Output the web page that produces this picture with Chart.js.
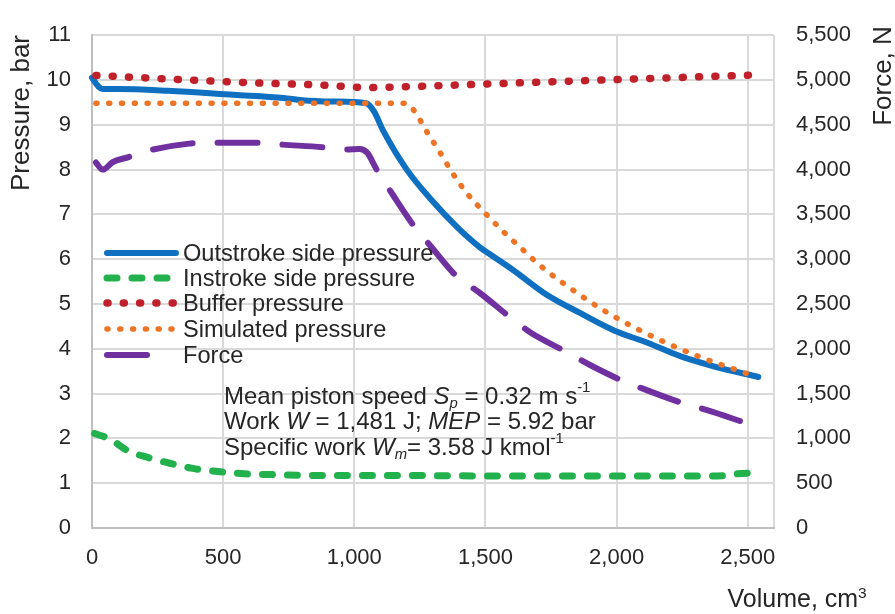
<!DOCTYPE html>
<html>
<head>
<meta charset="utf-8">
<script src="https://cdn.jsdelivr.net/npm/chart.js@4.4.1/dist/chart.umd.min.js"></script>
<style>
	body { margin: 0; background: #fff; }
	#khung { width: 895px; height: 614px; }
</style>
</head>
<body>
<div id="khung"><canvas id="bieuDo" width="895" height="614"></canvas></div>
<script>
// du lieu doc tu hinh
var outVol = [0, 25, 40, 100, 290, 540, 730, 800, 920, 1045, 1075, 1110, 1200, 1290, 1395, 1480, 1520, 1605, 1735, 1860, 1990, 2120, 2245, 2370, 2540];
var outP = [10.05, 9.85, 9.8, 9.8, 9.76, 9.67, 9.6, 9.55, 9.52, 9.48, 9.3, 8.87, 8.0, 7.35, 6.7, 6.26, 6.1, 5.76, 5.2, 4.8, 4.41, 4.13, 3.83, 3.61, 3.37];

var inVol = [10, 70, 135, 210, 300, 385, 480, 580, 700, 900, 1200, 1600, 2000, 2300, 2420, 2460, 2540];
var inP = [2.11, 1.98, 1.73, 1.58, 1.44, 1.33, 1.26, 1.21, 1.19, 1.17, 1.17, 1.16, 1.16, 1.16, 1.17, 1.21, 1.23];

var bufVol = [15, 300, 600, 900, 1050, 1200, 1500, 2000, 2520];
var bufP = [10.1, 10.02, 9.94, 9.88, 9.83, 9.85, 9.91, 10.01, 10.11];

var simVol = [15, 1195, 1226, 1278, 1328, 1378, 1435, 1500, 1569, 1641, 1710, 1824, 1947, 2073, 2206, 2343, 2481, 2530];
var simP = [9.48, 9.48, 9.33, 8.83, 8.37, 7.89, 7.43, 7.02, 6.61, 6.22, 5.85, 5.35, 4.87, 4.46, 4.09, 3.76, 3.48, 3.37];

var forceVol = [15, 40, 80, 140, 220, 370, 460, 630, 720, 880, 970, 1020, 1050, 1085, 1140, 1225, 1290, 1390, 1480, 1595, 1670, 1815, 1895, 2025, 2100, 2255, 2345, 2490];
var forceN = [4080, 4000, 4085, 4140, 4215, 4290, 4300, 4300, 4280, 4250, 4225, 4230, 4185, 4000, 3750, 3380, 3150, 2810, 2620, 2350, 2185, 1955, 1825, 1640, 1555, 1390, 1315, 1175];

var tenChuoi = ['Outstroke side pressure', 'Instroke side pressure', 'Buffer pressure', 'Simulated pressure', 'Force'];
var xTicks = [0, 500, 1000, 1500, 2000, 2500, 2600];

var phong = '"Liberation Sans", Arial, sans-serif';
var mauChu = '#262626';

function ghep(xs, ys) {
	return xs.map((x, i) => ({ x: x, y: ys[i] }));
}
function soDep(v) {
	return Number(v).toLocaleString('en-US');
}

var datasets = [
	{ label: tenChuoi[0], data: ghep(outVol, outP), yAxisID: 'y', borderColor: '#0f6fc0', borderWidth: 6, order: 5 },
	{ label: tenChuoi[1], data: ghep(inVol, inP), yAxisID: 'y', borderColor: '#22b14c', borderWidth: 7, borderDash: [10, 15], order: 4 },
	{ label: tenChuoi[2], data: ghep(bufVol, bufP), yAxisID: 'y', borderColor: '#c0202a', borderWidth: 7.5, borderDash: [1, 15.3], order: 3 },
	{ label: tenChuoi[3], data: ghep(simVol, simP), yAxisID: 'y', borderColor: '#ed7425', borderWidth: 5.5, borderDash: [1, 11.8], order: 2 },
	{ label: tenChuoi[4], data: ghep(forceVol, forceN), yAxisID: 'y2', borderColor: '#7030a0', borderWidth: 6, borderDash: [40, 25], order: 1 }
];
datasets.forEach(d => {
	d.pointRadius = 0;
	d.borderCapStyle = 'round';
	d.borderJoinStyle = 'round';
	d.cubicInterpolationMode = 'monotone';
	d.fill = false;
	d.clip = false;
});

// ve chu co nghieng / chi so
function veDong(ctx, x, y, phan, co) {
	phan.forEach(p => {
		var size = (p.sub || p.sup) ? co * 0.62 : co;
		ctx.font = (p.i ? 'italic ' : '') + size + 'px ' + phong;
		var dy = p.sub ? co * 0.28 : (p.sup ? -co * 0.36 : 0);
		ctx.fillText(p.t, x, y + dy);
		x += ctx.measureText(p.t).width;
	});
}

var chuThich = {
	id: 'chuThich',
	afterDraw(chart) {
		var ctx = chart.ctx;
		ctx.save();
		ctx.fillStyle = mauChu;

		// ten truc
		ctx.font = '26px ' + phong;
		ctx.textAlign = 'center';
		ctx.textBaseline = 'middle';
		ctx.save();
		ctx.translate(22, 113);
		ctx.rotate(-Math.PI / 2);
		ctx.fillText('Pressure, bar', 0, 0);
		ctx.restore();
		ctx.save();
		ctx.translate(884, 76);
		ctx.rotate(-Math.PI / 2);
		ctx.fillText('Force, N', 0, 0);
		ctx.restore();

		ctx.textAlign = 'left';
		ctx.textBaseline = 'alphabetic';
		ctx.font = '25px ' + phong;
		var w1 = ctx.measureText('Volume, cm').width;
		ctx.font = '16px ' + phong;
		var w2 = ctx.measureText('3').width;
		veDong(ctx, 867 - w1 - w2, 607, [{ t: 'Volume, cm' }, { t: '3', sup: true }], 25);

		// chu giai
		var hang = [253, 278, 303, 329, 355];
		chart.data.datasets.forEach((d, i) => {
			var y = hang[i];
			ctx.save();
			ctx.strokeStyle = d.borderColor;
			ctx.lineWidth = d.borderWidth;
			ctx.lineCap = 'round';
			ctx.setLineDash(d.borderDash || []);
			ctx.beginPath();
			ctx.moveTo(107, y);
			ctx.lineTo(i == 4 ? 150 : 176, y);
			ctx.stroke();
			ctx.restore();
			ctx.font = '23.6px ' + phong;
			ctx.textBaseline = 'middle';
			ctx.fillText(d.label, 183, y + 1);
		});

		// thong so
		ctx.textBaseline = 'middle';
		veDong(ctx, 224, 397, [{ t: 'Mean piston speed ' }, { t: 'S', i: true }, { t: 'p', i: true, sub: true }, { t: ' = 0.32 m s' }, { t: '-1', sup: true }], 24);
		veDong(ctx, 224, 422, [{ t: 'Work ' }, { t: 'W', i: true }, { t: ' = 1,481 J; ' }, { t: 'MEP', i: true }, { t: ' = 5.92 bar' }], 24);
		veDong(ctx, 224, 448, [{ t: 'Specific work ' }, { t: 'W', i: true }, { t: 'm', i: true, sub: true }, { t: '= 3.58 J kmol' }, { t: '-1', sup: true }], 24);
		ctx.restore();
	}
};

var nenTrang = {
	id: 'nenTrang',
	beforeDraw(chart) {
		var ctx = chart.ctx;
		ctx.save();
		ctx.fillStyle = '#fff';
		ctx.fillRect(0, 0, chart.width, chart.height);
		ctx.restore();
	}
};

var config = {
	type: 'line',
	data: { datasets: datasets },
	options: {
		responsive: false,
		animation: false,
		layout: { padding: { top: 22, left: 0, right: 0, bottom: 0 } },
		plugins: { legend: { display: false }, tooltip: { enabled: false } },
		scales: {
			x: {
				type: 'linear',
				min: 0,
				max: 2600,
				afterBuildTicks: (scale) => { scale.ticks = xTicks.map(v => ({ value: v })); },
				afterFit: (scale) => { scale.height = 86; },
				grid: { color: '#d9d9d9', lineWidth: 2, drawTicks: false },
				border: { color: '#bfbfbf', width: 2 },
				ticks: {
					padding: 17,
					color: mauChu,
					font: { family: phong, size: 22 },
					maxRotation: 0,
					autoSkip: false,
					callback: (v) => v == 2600 ? '' : soDep(v)
				}
			},
			y: {
				position: 'left',
				min: 0,
				max: 11,
				afterFit: (scale) => { scale.width = 92; },
				grid: { color: '#d9d9d9', lineWidth: 2, drawTicks: false },
				border: { color: '#bfbfbf', width: 2 },
				ticks: { stepSize: 1, padding: 21, color: mauChu, font: { family: phong, size: 22 } }
			},
			y2: {
				position: 'right',
				min: 0,
				max: 5500,
				afterFit: (scale) => { scale.width = 121; },
				grid: { display: false, drawTicks: false },
				border: { display: false },
				ticks: { stepSize: 500, padding: 22, color: mauChu, font: { family: phong, size: 22 }, callback: (v) => soDep(v) }
			}
		}
	},
	plugins: [nenTrang, chuThich]
};

var bieuDo = new Chart(document.getElementById('bieuDo').getContext('2d'), config);
</script>
</body>
</html>
